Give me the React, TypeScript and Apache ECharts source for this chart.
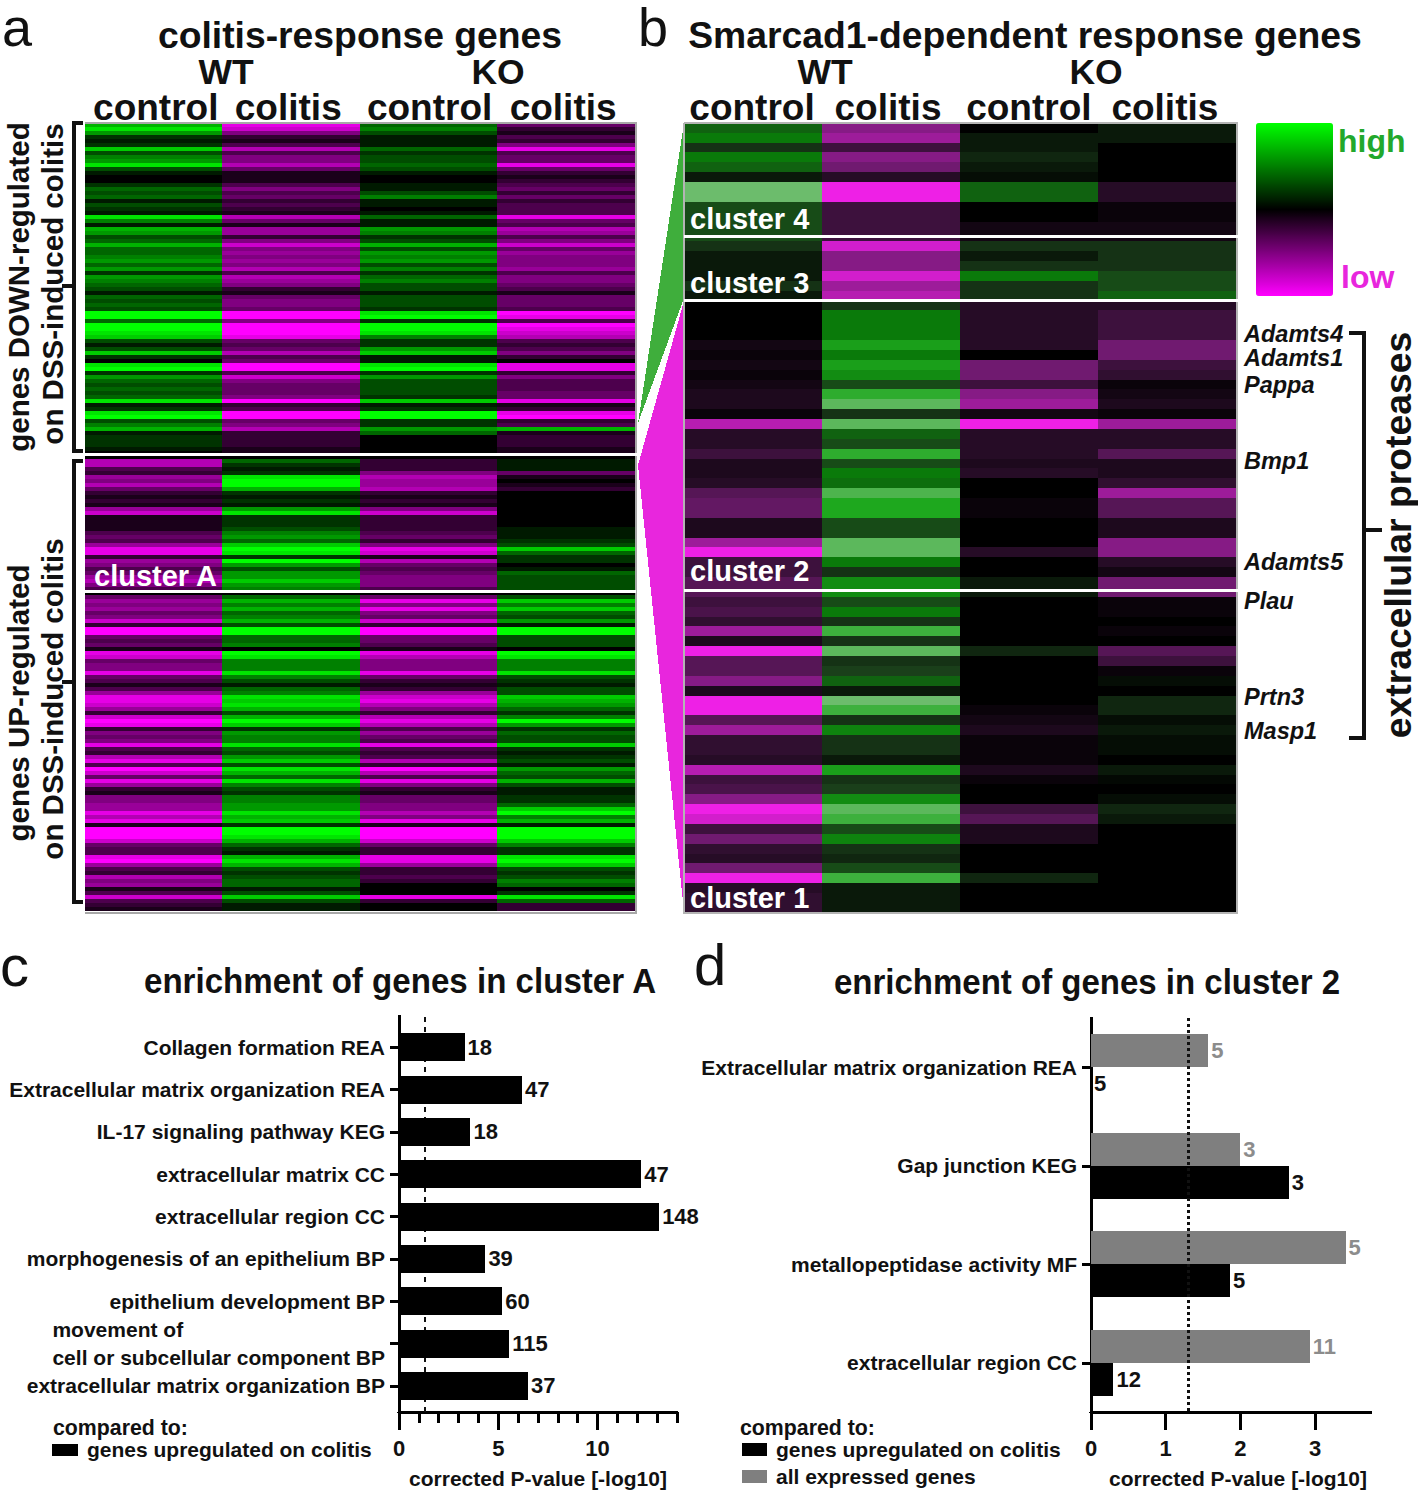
import React, { useEffect, useRef } from "react";
import * as echarts from "echarts";

// Panel a: heat values, -10 (low) .. 10 (high), one per row from the top
const wtControlDown = [
  7,9,6,2,1,2,8,3,5,6, 9,3,1,0,0,2,4,3,4,1, 3,2,1,9,5,1,7,6,3,4, 7,4,4,5,6,4,6,2,6,5,
  4,3,1,4,3,4,3,10,10,4, 10,10,9,8,3,1,3,8,2,0, 9,10,2,6,4,3,4,3,4,9, 1,2,9,10,3,5,7,1,2,2, 2,1,0,
];
const wtColitisDown = [
  -9,-8,-5,-2,-1,-3,-7,-3,-5,-5, -7,-4,-1,-1,-1,-3,-5,-3,-4,-2, -3,-2,-1,-7,-4,-1,-6,-6,-2,-5,
  -8,-5,-6,-5,-6,-5,-7,-3,-7,-6, -5,-2,-1,-4,-5,-5,-4,-10,-10,-5, -10,-10,-10,-9,-4,-3,-4,-7,-3,-4,
  -10,-10,-3,-8,-5,-4,-4,-4,-5,-10, -2,-3,-10,-10,-4,-5,-7,-2,-2,-2, -2,-1,-1,
];
const koControlDown = [
  4,5,3,1,1,1,4,2,3,3, 4,3,1,0,0,1,1,3,5,1, 1,0,1,4,1,1,6,5,2,3, 7,3,6,5,6,3,5,2,4,5,
  3,3,1,3,3,3,2,9,10,2, 10,10,9,5,2,2,6,8,1,1, 9,10,2,6,3,3,3,3,2,8, 1,2,10,10,2,2,6,4,0,0, 0,0,0,
];
const koColitisDown = [
  -4,-2,-1,-3,-2,-5,-9,-3,-4,-4, -9,-4,-2,-1,-2,-3,-4,-2,-4,-2, -3,-3,-3,-9,-4,-3,-7,-6,-3,-5,
  -8,-4,-6,-5,-5,-5,-6,-3,-5,-5, -4,-3,-1,-4,-4,-4,-3,-10,-9,-3, -10,-9,-8,-7,-3,-2,-3,-5,-2,0,
  -9,-9,-2,-5,-3,-3,-3,-4,-4,-9, -1,-2,-9,-10,-2,-3,7,-1,-2,-2, -2,-1,-1,
];
const wtControlUp = [
  0,-7,-7,-3,-2,-6,-5,-7,-4,-2, -1,-2,-1,-6,-8,-1,-1,-1,-1,-3, -4,-3,-6,-9,-9,-2,-6,-5,-3,-4,
  -6,-7,-5,-3,0,-4,-6,-5,-6,-4, -5,-8,-2,-10,-10,-4,-3,-4,-1,-9, -8,-4,-5,-5,-9,-4,-3,-1,-3,-6,
  -9,-9,-8,-6,-2,-8,-10,-9,-2,-5, -4,-5,-9,-3,-2,-7,-9,-3,-10,-8, -4,-9,-6,-2,-1,-5,-5,-6,-6,-9,
  -7,-9,-1,-10,-10,-10,-8,-4,-3,-3, -9,-10,-6,-3,-2,-7,-5,-6,-1,-3, -8,-3,-2,-1,
];
const wtColitisUp = [
  0,4,2,1,2,9,10,10,7,2, 1,2,1,6,9,2,2,2,3,5, 6,4,8,10,9,2,10,6,3,6,
  6,8,6,5,0,4,7,5,7,4, 5,7,3,10,10,4,4,5,0,10, 9,5,5,5,9,5,3,1,4,5,
  9,8,9,7,3,7,10,8,2,6, 5,5,9,4,3,6,8,3,9,7, 4,9,5,3,2,5,5,6,6,9,
  7,8,2,10,10,9,7,4,2,1, 7,9,7,3,2,3,4,4,1,3, 8,3,1,1,
];
const koControlUp = [
  0,-2,-2,-2,-5,-7,-6,-6,-7,-2, -1,-2,-1,-5,-8,-2,-2,-2,-2,-3, -4,-2,-5,-9,-8,-1,-7,-4,-3,-4,
  -5,-5,-5,-3,0,-4,-9,-5,-9,-5, -4,-8,-2,-10,-10,-4,-4,-3,-1,-9, -7,-5,-5,-5,-9,-4,-2,-1,-2,-6,
  -8,-9,-7,-5,-2,-7,-9,-7,-3,-6, -4,-3,-9,-3,-2,-3,-7,-2,-10,-7, -3,-9,-5,-2,-1,-4,-4,-5,-5,-7,
  -5,-9,-1,-10,-10,-10,-8,-4,-2,-2, -9,-9,-6,-2,-2,-3,-2,0,0,0, -9,-2,0,0,
];
const koColitisUp = [
  0,1,1,1,-4,-1,0,-1,-2,0, 0,0,0,0,0,0,0,0,1,1, 1,2,3,8,4,2,2,0,1,4,
  3,3,3,3,0,3,8,5,8,4, 3,6,1,10,10,3,3,3,0,10, 9,5,5,5,9,3,2,1,3,3,
  8,7,6,4,2,5,10,6,2,4, 3,3,8,2,1,2,3,1,6,4, 3,7,3,1,1,2,2,4,8,10,
  5,7,1,10,10,10,8,5,2,2, 9,10,8,3,2,3,5,4,0,2, 9,4,-2,-2,
];

// Panel b: heat values, one per row from the top
const bWtControl = [
  4,5,2,5,4,1,10,10,3,3, 3,3,2,1,1,1,2,1,0,0, 0,0,-1,-0.5,-1,-0.5,-1,-1.5,-1.5,-0.5,
  -8,-2,-2,-3,-1.5,-1.5,-2,-4,-4.5,-4.5, -1.5,-1.5,-7,-10,-3,-3,-4,-4,-3,-3.5,
  -2.5,-7,-1.5,-10,-4,-4,-6,-1.5,-10,-10, -4,-7,-2.5,-2.5,-2,-8,-3,-3.5,-6,-10,
  -9,-3,-5,-2.5,-2,-5,-10,-2,-2.5,-2.5,
];
const bWtColitis = [
  -6,-7,-3,-6,-5,-2,-10,-10,-3,-3, -3,-3,-9,-6,-6,-9,-7,-8,2,5,
  5,5,7,5,7,6,3,8,9.5,2, 9.5,4,3,8,3,5,4.5,9,7.5,7.5,
  3,3,9.5,9.5,5,2,6,6,3,5, 2,8.5,2,9.5,2,2.5,4,1,10,8.5,
  2,5.5,2,2,1,7,2,2.5,6,9.5, 8.5,3,5.5,2,1.5,3,8.5,1,1,1,
];
const bKoControl = [
  0,1,1,1.5,1,0.5,4,4,0,0, -1,-1,2,1,2,5,2,2,-2,-2,
  -2,-2,-2,0,-5,-5,-3,-6,-7,-1, -10,-2,-2,-2,-1.5,-2,0,0,-0.5,-0.5,
  0,0,0,-2,0,0,1,1,0,0, 0,0,0,1.5,0,0,0,0,0,-0.5,
  -1,-1.5,-0.5,-0.5,-0.5,-1.5,-0.5,0,0,-3, -4,-1.5,-1.5,0,0,0,1.5,0,0,0,
];
const bKoColitis = [
  1,1,0,0,0,0,-2,-2,-0.5,-0.5, -1,-1,2,2,2,3,3,4,-2,-3,
  -3,-3,-5,-5,-3,-2.5,-0.5,-1,-1.5,-0.5, -7,-2,-2,-4,-1.5,-1.5,-2.5,-7,-4,-4,
  -1.5,-1.5,-6,-6,-2,-1,-5,-5,-0.5,-0.5, 0,-0.5,0,-4,-3,-0.5,0.5,0,1.5,1.5,
  0.5,1,0.5,0.5,0,1,0.3,0,0.5,1.5, 1,0,0,0,0,0,0,0,0,0,
];

const heatColumns = ["control", "colitis", "control ", "colitis "];

// Panel c
const cCategories = [
  "Collagen formation REA", "Extracellular matrix organization REA", "IL-17 signaling pathway KEG",
  "extracellular matrix CC", "extracellular region CC", "morphogenesis of an epithelium BP",
  "epithelium development BP", "movement of\ncell or subcellular component BP", "extracellular matrix organization BP",
];
const cValues = [3.3, 6.2, 3.6, 12.2, 13.1, 4.35, 5.2, 5.55, 6.5];
const cCounts = [18, 47, 18, 47, 148, 39, 60, 115, 37];
const cMinorTicks = [0, 1, 2, 3, 4, 5, 6, 7, 8, 9, 10, 11, 12, 13, 14];
const cMajorTicks = [0, 5, 10];

// Panel d
const dCategories = ["Extracellular matrix organization REA", "Gap junction KEG", "metallopeptidase activity MF", "extracellular region CC"];
const dAllExpressed = [1.57, 2.0, 3.41, 2.93];
const dAllCounts = [5, 3, 5, 11];
const dUpregulated = [0, 2.65, 1.86, 0.3];
const dUpCounts = [5, 3, 5, 12];
const dTicks = [0, 1, 2, 3];

const threshold = 1.3;
const geneLabels: [string, number][] = [
  ["Adamts4", 334], ["Adamts1", 358], ["Pappa", 385], ["Bmp1", 461],
  ["Adamts5", 562], ["Plau", 601], ["Prtn3", 697], ["Masp1", 731],
];

const SANS = '"Liberation Sans", Arial, sans-serif';

function heatData(columns: number[][]) {
  const out: number[][] = [];
  columns.forEach((col, c) => col.forEach((v, r) => out.push([c, r, v])));
  return out;
}

function txt(text: string, x: number, y: number, font: string, extra: any = {}) {
  const { fill = "#111", align = "left", rotation = 0, scaleX = 1, lineHeight } = extra;
  return {
    type: "text", x, y, rotation, scaleX, z: 200, silent: true,
    style: { text, font, fill, textAlign: align, textVerticalAlign: "middle", ...(lineHeight ? { lineHeight } : {}) },
  };
}
function poly(points: number[][], stroke: string, lineWidth: number) {
  return {
    type: "polyline", z: 190, silent: true,
    shape: { points },
    style: { stroke, lineWidth, fill: "none" },
  };
}
function hline(x1: number, x2: number, y: number, stroke: string, lineWidth: number) {
  return poly([[x1, y], [x2, y]], stroke, lineWidth);
}

function buildOption(): any {
  const T37 = `bold 37.3px ${SANS}`;
  const HEAD = `bold 35.5px ${SANS}`;
  const T29 = `bold 29px ${SANS}`;
  const ROT = `bold 29.5px ${SANS}`;
  const LET = `58px ${SANS}`;
  const LET_TOP = `54px ${SANS}`;
  const graphic: any[] = [
    { type: "polygon", z: 50, silent: true, shape: { points: [[684, 123], [684, 298], [638, 423]] }, style: { fill: "#3fae3c" } },
    { type: "polygon", z: 50, silent: true, shape: { points: [[684, 301], [638, 465], [684, 912]] }, style: { fill: "#e826dd" } },
    poly([[85, 123], [636, 123], [636, 913], [85, 913]], "#a8a8a8", 2),
    hline(85, 638, 454.5, "#ffffff", 3.5),
    hline(85, 636, 591, "#ffffff", 3),
    poly([[684, 123], [1237, 123], [1237, 913], [684, 913], [684, 123]], "#b4b4b4", 2),
    hline(684, 1238, 236.5, "#ffffff", 3),
    hline(684, 1238, 300, "#ffffff", 3),
    hline(684, 1238, 590.5, "#ffffff", 3),
    poly([[83, 123], [74, 123], [74, 451], [83, 451]], "#111", 3.5),
    hline(62, 74, 286, "#111", 3.5),
    poly([[83, 461], [74, 461], [74, 902], [83, 902]], "#111", 3.5),
    hline(62, 74, 682, "#111", 3.5),
    poly([[1349, 333], [1364, 333], [1364, 738], [1349, 738]], "#111", 4),
    hline(1364, 1382, 530, "#111", 4),
    txt("a", 2, 27, LET_TOP),
    txt("b", 638, 27, LET_TOP),
    txt("c", 0, 965, LET),
    txt("d", 694, 964, LET),
    txt("colitis-response genes", 360, 35, T37, { align: "center" }),
    txt("Smarcad1-dependent response genes", 1025, 35, T37, { align: "center" }),
    txt("WT", 226, 71.5, HEAD, { align: "center" }),
    txt("KO", 498, 71.5, HEAD, { align: "center" }),
    txt("WT", 825, 71.5, HEAD, { align: "center" }),
    txt("KO", 1096, 71.5, HEAD, { align: "center" }),
    txt("enrichment of genes in cluster A", 400, 981, `bold 36px ${SANS}`, { align: "center", scaleX: 0.92 }),
    txt("enrichment of genes in cluster 2", 1087, 981, `bold 36px ${SANS}`, { align: "center", scaleX: 0.917 }),
    txt("genes DOWN-regulated", 18, 287, ROT, { align: "center", rotation: Math.PI / 2 }),
    txt("on DSS-induced colitis", 52, 284, ROT, { align: "center", rotation: Math.PI / 2 }),
    txt("genes UP-regulated", 18, 703, ROT, { align: "center", rotation: Math.PI / 2 }),
    txt("on DSS-induced colitis", 52, 699, ROT, { align: "center", rotation: Math.PI / 2 }),
    txt("extracellular proteases", 1398, 535, T37, { align: "center", rotation: Math.PI / 2 }),
    txt("cluster A", 94, 576, T29, { fill: "#ffffff" }),
    txt("cluster 4", 690, 219, T29, { fill: "#ffffff" }),
    txt("cluster 3", 690, 283, T29, { fill: "#ffffff" }),
    txt("cluster 2", 690, 571, T29, { fill: "#ffffff" }),
    txt("cluster 1", 690, 898, T29, { fill: "#ffffff" }),
    txt("high", 1338, 141, `bold 32px ${SANS}`, { fill: "#22a82c" }),
    txt("low", 1341, 277, `bold 32px ${SANS}`, { fill: "#e826dd" }),
    txt("compared to:", 53, 1428, `bold 21.3px ${SANS}`),
    txt("compared to:", 740, 1428, `bold 21.3px ${SANS}`),
    ...geneLabels.map(([name, y]) => txt(name, 1244, y, `italic bold 23.5px ${SANS}`, { lineHeight: 23 })),
  ];

  const tickStyle = { color: "#000", width: 2.5 };
  const valueAxisCommon = {
    type: "value",
    axisLine: { show: true, lineStyle: { color: "#000", width: 3 } },
    splitLine: { show: false },
    nameLocation: "middle",
    nameTextStyle: { fontFamily: SANS, fontWeight: "bold", fontSize: 21, color: "#111" },
    axisLabel: { fontFamily: SANS, fontWeight: "bold", fontSize: 22, color: "#111", margin: 25 },
  };
  const catLabel = {
    fontFamily: SANS, fontWeight: "bold", fontSize: 21, color: "#111", margin: 14, lineHeight: 28,
  };
  // shifts: horizontal nudges of the column headings over the heat map columns
  const heatX = (gridIndex: number, shifts: number[]) => ({
    type: "category", gridIndex, position: "top",
    data: heatColumns.map((value, i) => ({
      value,
      textStyle: { padding: shifts[i] >= 0 ? [0, 0, 0, 2 * shifts[i]] : [0, -2 * shifts[i], 0, 0] },
    })),
    axisLine: { show: false }, axisTick: { show: false }, splitArea: { show: false },
    axisLabel: { fontFamily: SANS, fontWeight: "bold", fontSize: 37, color: "#111", margin: 3, interval: 0, lineHeight: 26 },
  });

  const countLabel = (counts: number[], color: string) => ({
    show: true, position: "right", distance: 3, color,
    fontFamily: SANS, fontWeight: "bold", fontSize: 22,
    formatter: (p: any) => String(counts[p.dataIndex]),
  });
  const legendText = { fontFamily: SANS, fontWeight: "bold", fontSize: 21, color: "#111", padding: [0, 0, 0, 4] };

  return {
    animation: false,
    backgroundColor: "#ffffff",
    grid: [
      { left: 85, top: 123, width: 550, height: 788, outerBoundsMode: "none" },
      { left: 684, top: 123, width: 552, height: 790, outerBoundsMode: "none" },
      { left: 399, top: 1016, width: 278, height: 396, outerBoundsMode: "none" },
      { left: 399, top: 1026, width: 278, height: 381, outerBoundsMode: "none" },
      { left: 1091, top: 1018, width: 280, height: 394, outerBoundsMode: "none" },
    ],
    xAxis: [
      heatX(0, [2, -3, 6, 2]),
      heatX(1, [-1, -3, 5, 3]),
      {
        ...valueAxisCommon, gridIndex: 2, min: 0, max: 14,
        axisTick: { show: true, length: 11, lineStyle: tickStyle, customValues: cMinorTicks },
        axisLabel: { ...valueAxisCommon.axisLabel, customValues: cMajorTicks },
        name: "corrected P-value [-log10]", nameGap: 56,
      },
      { type: "value", gridIndex: 3, min: 0, max: 14, show: false },
      {
        ...valueAxisCommon, gridIndex: 4, min: 0, max: 3.75,
        axisTick: { show: true, length: 18, lineStyle: tickStyle, customValues: dTicks },
        axisLabel: { ...valueAxisCommon.axisLabel, customValues: dTicks },
        name: "corrected P-value [-log10]", nameGap: 56,
        nameTextStyle: { ...valueAxisCommon.nameTextStyle, padding: [0, 0, 0, 14] },
      },
      {
        type: "value", gridIndex: 2, position: "bottom", min: 0, max: 14,
        axisLine: { show: false }, splitLine: { show: false }, axisLabel: { show: false },
        axisTick: { show: true, length: 18, lineStyle: tickStyle, customValues: cMajorTicks },
      },
    ],
    yAxis: [
      { type: "category", gridIndex: 0, inverse: true, show: false, data: wtControlDown.concat(wtControlUp).map((_, i) => i) },
      { type: "category", gridIndex: 1, inverse: true, show: false, data: bWtControl.map((_, i) => i) },
      {
        type: "value", gridIndex: 2, min: 0, max: 1,
        axisLine: { show: true, lineStyle: { color: "#000", width: 3 } },
        axisTick: { show: false }, axisLabel: { show: false }, splitLine: { show: false },
      },
      {
        type: "category", gridIndex: 3, inverse: true, data: cCategories,
        axisLine: { show: false },
        axisTick: { show: true, alignWithLabel: true, length: 9, lineStyle: tickStyle },
        axisLabel: {
          ...catLabel, interval: 0,
          formatter: (v: string) => (v.includes("\n") ? v.split("\n").map((l) => `{left|${l}}`).join("\n") : v),
          rich: { left: { ...catLabel, align: "left" } },
        },
      },
      {
        type: "category", gridIndex: 4, inverse: true, data: dCategories,
        axisLine: { show: true, lineStyle: { color: "#000", width: 3 } },
        axisTick: { show: true, alignWithLabel: true, length: 9, lineStyle: tickStyle },
        axisLabel: { ...catLabel, interval: 0 },
      },
    ],
    visualMap: [
      {
        type: "continuous", seriesIndex: 0, min: -10, max: 10, show: true, calculable: false,
        left: 1256, top: 123, itemWidth: 77, itemHeight: 173, showLabel: false,
        textStyle: { color: "transparent", fontSize: 1 }, padding: 0,
        inRange: { color: ["#ff00ff", "#000000", "#00ff00"] },
      },
      {
        type: "continuous", seriesIndex: 1, min: -10, max: 10, show: false,
        inRange: { color: ["#ee20e6", "#a81ca4", "#701a70", "#300f30", "#000000", "#1a3f1a", "#0a7a0a", "#1ea81e", "#6cbc6c"] },
      },
    ],
    legend: [
      {
        left: 52, top: 1439, itemWidth: 26, itemHeight: 12, icon: "rect", selectedMode: false, padding: 0, itemGap: 6,
        data: ["genes upregulated on colitis"], textStyle: legendText,
      },
      {
        left: 742, top: 1439, orient: "vertical", itemWidth: 25, itemHeight: 13, icon: "rect", selectedMode: false, padding: 0, itemGap: 6,
        data: ["genes upregulated on colitis", "all expressed genes"], textStyle: legendText,
      },
    ],
    series: [
      {
        type: "heatmap", xAxisIndex: 0, yAxisIndex: 0, silent: true, progressive: 0,
        data: heatData([
          wtControlDown.concat(wtControlUp), wtColitisDown.concat(wtColitisUp),
          koControlDown.concat(koControlUp), koColitisDown.concat(koColitisUp),
        ]),
      },
      {
        type: "heatmap", xAxisIndex: 1, yAxisIndex: 1, silent: true, progressive: 0,
        data: heatData([bWtControl, bWtColitis, bKoControl, bKoColitis]),
      },
      {
        type: "line", xAxisIndex: 2, yAxisIndex: 2, symbol: "none", silent: true, z: 1,
        lineStyle: { color: "#111", width: 2.5, type: [5, 5] },
        data: [[threshold, 0], [threshold, 1]],
      },
      {
        type: "bar", name: "genes upregulated on colitis", xAxisIndex: 3, yAxisIndex: 3, barWidth: 28,
        itemStyle: { color: "#000" }, data: cValues, label: countLabel(cCounts, "#111"),
      },
      {
        type: "bar", name: "all expressed genes", xAxisIndex: 4, yAxisIndex: 4, barWidth: 33, barGap: 0,
        itemStyle: { color: "#7f7f7f" }, data: dAllExpressed, label: countLabel(dAllCounts, "#8c8c8c"),
        markLine: {
          silent: true, symbol: "none", z: 10, label: { show: false },
          lineStyle: { color: "#111", width: 3, type: [3, 3] },
          data: [{ xAxis: threshold }],
        },
      },
      {
        type: "bar", name: "genes upregulated on colitis", xAxisIndex: 4, yAxisIndex: 4, barWidth: 33, barGap: 0,
        itemStyle: { color: "#000" }, data: dUpregulated, label: countLabel(dUpCounts, "#111"),
      },
    ],
    graphic,
  };
}

export default function App() {
  const ref = useRef<HTMLDivElement>(null);
  useEffect(() => {
    const chart = echarts.init(ref.current!, undefined, { renderer: "svg" });
    chart.setOption(buildOption());
    return () => chart.dispose();
  }, []);
  return (
    <div
      ref={ref}
      style={{ position: "absolute", left: 0, top: 0, width: 1418, height: 1491, shapeRendering: "crispEdges" } as any}
    />
  );
}
